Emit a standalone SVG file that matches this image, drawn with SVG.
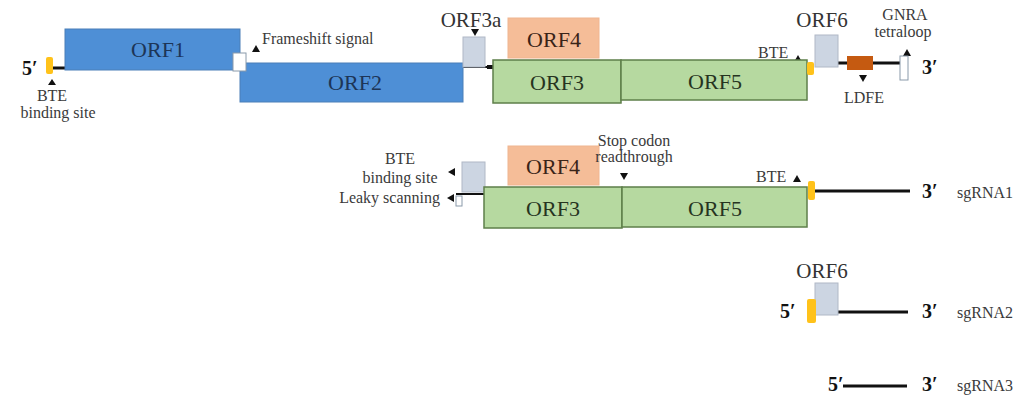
<svg xmlns="http://www.w3.org/2000/svg" width="1023" height="401" viewBox="0 0 1023 401">
<style>
text{font-family:"Liberation Serif","Times New Roman",serif;fill:#333}
.lbl{font-size:16px;fill:#3a3a3a}
.orf{font-family:"Liberation Serif","Times New Roman",serif;font-size:22px;text-anchor:middle}
.end{font-size:20px;font-weight:bold;fill:#111}
.blue{fill:#4e8fd6;stroke:#4a7fb8;stroke-width:1}
.green{fill:#b6d9a0;stroke:#5e7f4a;stroke-width:1.5}
.peach{fill:#f5bd98;stroke:#f0b590;stroke-width:1}
.gray{fill:#ccd5e2;stroke:#b0b8c6;stroke-width:1}
.yel{fill:#ffc21a}
.rna{stroke:#111;stroke-width:3;fill:none}
.tri{fill:#111}
.tb{fill:#1d3557}
.tg{fill:#26341f}
.tp{fill:#3a2418}
</style>

<g id="connectors">
  <line class="rna" x1="53" y1="68" x2="66" y2="68"/>
  <line class="rna" x1="463" y1="67" x2="493" y2="67" style="stroke-width:2"/>
  <rect x="487" y="65" width="6" height="4" class="tri"/>
  <line class="rna" x1="838" y1="63" x2="903" y2="63"/>
  <line class="rna" x1="456" y1="194" x2="484" y2="194" style="stroke-width:2"/>
  <line class="rna" x1="815" y1="191" x2="910" y2="191"/>
  <line class="rna" x1="838" y1="312" x2="908" y2="312"/>
  <line class="rna" x1="843" y1="386" x2="907" y2="386"/>
  <polygon class="tri" points="52,79 48,85 56,85"/>
  <polygon class="tri" points="256,45 252,52 260,52"/>
  <polygon class="tri" points="475,36 471,29 479,29"/>
  <polygon class="tri" points="798,55 794,62 802,62"/>
  <polygon class="tri" points="863,82 859,75 867,75"/>
  <polygon class="tri" points="907,49 903,56 911,56"/>
  <polygon class="tri" points="448,172 455,168 455,176"/>
  <polygon class="tri" points="447,198 454,194 454,202"/>
  <polygon class="tri" points="624,180 620,173 628,173"/>
  <polygon class="tri" points="797,175 793,182 801,182"/>
</g>

<g id="genome">
  <text class="end" x="22" y="75">5′</text>
  <g id="bte-site"><rect class="yel" x="46" y="57" width="7" height="17" rx="2"/>
    <text class="lbl" x="52" y="101" text-anchor="middle">BTE</text>
    <text class="lbl" x="58" y="118" text-anchor="middle">binding site</text></g>
  <g id="orf1"><rect class="blue" x="65" y="29" width="175" height="41"/><text class="orf tb" x="158" y="57">ORF1</text></g>
  <g id="orf2"><rect class="blue" x="240" y="63" width="223" height="39"/><text class="orf tb" x="355" y="90">ORF2</text></g>
  <g id="frameshift"><rect x="233" y="53" width="13" height="18" fill="#fff" stroke="#8a9aaa" stroke-width="1"/>
    <text class="lbl" x="262" y="44">Frameshift signal</text></g>
  <g id="orf3a"><rect class="gray" x="463" y="37" width="22" height="30"/><text x="471" y="27" font-size="21" text-anchor="middle">ORF3a</text></g>
  <g id="orf4"><rect class="peach" x="508" y="18" width="91" height="40"/><text class="orf tp" x="554" y="47">ORF4</text></g>
  <g id="orf3"><rect class="green" x="493" y="60" width="128" height="43"/><text class="orf tg" x="557" y="90">ORF3</text></g>
  <g id="orf5"><rect class="green" x="621" y="60" width="186" height="40"/><text class="orf tg" x="715" y="89">ORF5</text></g>
  <g id="bte"><rect class="yel" x="807" y="62" width="7" height="13" rx="2"/><text class="lbl" x="758" y="58">BTE</text></g>
  <g id="orf6"><rect class="gray" x="815" y="35" width="23" height="32"/><text x="822" y="27" font-size="21" text-anchor="middle">ORF6</text></g>
  <g id="ldfe"><rect x="847" y="56" width="26" height="14" fill="#c55a11"/><text class="lbl" x="864" y="103" text-anchor="middle">LDFE</text></g>
  <g id="gnra"><rect x="900" y="56" width="8" height="24" fill="#fff" stroke="#8a9aaa" stroke-width="1"/>
    <text class="lbl" x="905" y="20" text-anchor="middle">GNRA</text>
    <text class="lbl" x="903" y="37" text-anchor="middle">tetraloop</text></g>
  <text class="end" x="922" y="74">3′</text>
</g>

<g id="sgRNA1">
  <g id="sg1-gray"><rect class="gray" x="462" y="162" width="23" height="30"/></g>
  <rect x="456" y="196" width="6" height="10" fill="#fff" stroke="#8a9aaa" stroke-width="1"/>
  <text class="lbl" x="400" y="164" text-anchor="middle">BTE</text>
  <text class="lbl" x="400" y="183" text-anchor="middle">binding site</text>
  <text class="lbl" x="440" y="203" text-anchor="end">Leaky scanning</text>
  <g id="sg1-orf4"><rect class="peach" x="508" y="146" width="91" height="39"/><text class="orf tp" x="553" y="174">ORF4</text></g>
  <g id="sg1-orf3"><rect class="green" x="484" y="187" width="138" height="41"/><text class="orf tg" x="553" y="216">ORF3</text></g>
  <g id="sg1-orf5"><rect class="green" x="622" y="187" width="185" height="40"/><text class="orf tg" x="715" y="216">ORF5</text></g>
  <text class="lbl" x="634" y="146" text-anchor="middle">Stop codon</text>
  <text class="lbl" x="634" y="162" text-anchor="middle">readthrough</text>
  <rect class="yel" x="808" y="181" width="7" height="19" rx="2"/>
  <text class="lbl" x="756" y="182">BTE</text>
  <text class="end" x="922" y="198">3′</text>
  <text class="lbl" x="957" y="198">sgRNA1</text>
</g>

<g id="sgRNA2">
  <text x="822" y="278" font-size="21" text-anchor="middle">ORF6</text>
  <rect class="gray" x="815" y="283" width="23" height="32"/>
  <rect class="yel" x="807" y="299" width="9" height="24" rx="2"/>
  <text class="end" x="780" y="318">5′</text>
  <text class="end" x="922" y="318">3′</text>
  <text class="lbl" x="957" y="318">sgRNA2</text>
</g>

<g id="sgRNA3">
  <text class="end" x="828" y="391">5′</text>
  <text class="end" x="922" y="391">3′</text>
  <text class="lbl" x="957" y="391">sgRNA3</text>
</g>
</svg>
